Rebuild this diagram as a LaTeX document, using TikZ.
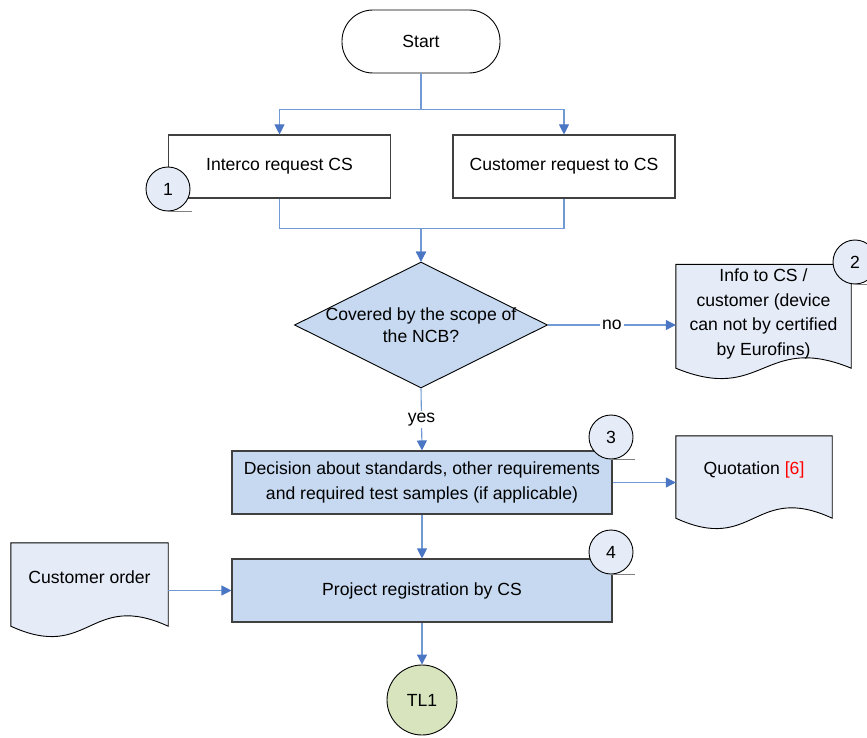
\documentclass[tikz,border=0pt]{standalone}
\usepackage{fontspec}
\setmainfont{Liberation Sans}
\usepackage{tikz}
\usetikzlibrary{shapes,arrows.meta,positioning,backgrounds}
\usepackage{xcolor}

\definecolor{boxblue}{HTML}{C6D9F0}
\definecolor{docfill}{HTML}{E5EBF7}
\definecolor{tlgreen}{HTML}{D7E4BD}
\definecolor{boxline}{HTML}{404040}
\definecolor{flowline}{HTML}{7199D4}
\definecolor{arrowblue}{HTML}{4A76C4}

% wavy document outline behind a node, #2 = drop of the wave below the node
\newcommand{\docoutline}[2]{%
  \begin{scope}[on background layer]
    \path[docline] (#1.north west) -- (#1.north east) -- ([yshift={-#2}]#1.south east)
      .. controls ([yshift={36-#2}]#1.south) and ([yshift={-36-#2}]#1.south) .. ([yshift={-#2}]#1.south west) -- cycle;
  \end{scope}}

\begin{document}
\begin{tikzpicture}[x=1pt, y=-1pt,
    font=\fontsize{17.6}{24.5}\selectfont,
    box/.style={draw=boxline, line width=1.1pt, fill=boxblue, minimum width=380, minimum height=63, align=center},
    whitebox/.style={draw=boxline, line width=1.1pt, fill=white, minimum width=222, minimum height=63},
    docarea/.style={align=center, inner sep=0},
    docline/.style={draw=black, line width=0.9pt, fill=docfill},
    callout/.style={circle, draw=black, line width=0.9pt, fill=docfill, minimum size=44, inner sep=0},
    calloutline/.style={draw=gray, line width=1.4pt},
    flow/.style={draw=flowline, line width=1.1pt, -{Triangle[length=10pt,width=10pt,color=arrowblue]}},
    tag/.style={fill=white, inner sep=2pt}]

    \useasboundingbox (0,0) rectangle (867,738);

    \node[draw=black, line width=0.9pt, rectangle, rounded corners=31, minimum width=158, minimum height=63] (start) at (421,41.5) {Start};

    \node[whitebox] (interco) at (279.5,166.5) {Interco request CS};
    \node[whitebox] (custreq) at (564,166.5) {Customer request to CS};

    \node[diamond, draw=black, line width=0.9pt, fill=boxblue, minimum width=253, minimum height=126, inner sep=0] (scope) at (421,325) {};
    \node[align=center, font=\fontsize{17.6}{22}\selectfont] at (scope) {Covered by the scope of\\the NCB?};

    \node[docarea, minimum width=175, minimum height=99] (info) at (763.5,314) {Info to CS /\\customer (device\\can not by certified\\by Eurofins)};
    \docoutline{info}{4.5}

    \node[box] (decision) at (422,482.5) {Decision about standards, other requirements\\and required test samples (if applicable)};
    \node[docarea, minimum width=156, minimum height=68] (quote) at (754,470) {Quotation \textcolor{red}{[6]}};
    \docoutline{quote}{14}

    \node[box] (project) at (422,590.5) {Project registration by CS};
    \node[docarea, minimum width=157, minimum height=69] (order) at (89.5,577.5) {Customer order};
    \docoutline{order}{14}

    \node[circle, draw=black, line width=0.9pt, fill=tlgreen, minimum size=70] (tl) at (422,700) {TL1};

    % numbered callouts
    \node[callout] (one) at (168,189) {1};
    \node[callout] (two) at (855,262) {2};
    \node[callout] (three) at (611,437) {3};
    \node[callout] (four) at (611,552) {4};
    \foreach \c in {one,two,three,four} {
        \draw[calloutline] (\c.south) -- ++(24,0);
    }

    % connectors
    \draw[flow] (start.south) -- ++(0,36) -| (interco.north);
    \draw[flow] (start.south) -- ++(0,36) -| (custreq.north);
    \draw[flow] (interco.south) -- ++(0,30) -| (scope.north);
    \draw[flow] (custreq.south) -- ++(0,30) -| (scope.north);
    \draw[flow] (scope.east) -- node[tag] {no} (info.west |- scope.east);
    \draw[flow] (scope.south) -- node[tag] {yes} (decision.north);
    \draw[flow] (decision.east) -- (quote.west |- decision.east);
    \draw[flow] (decision.south) -- (project.north);
    \draw[flow] (order.east |- project.west) -- (project.west);
    \draw[flow] (project.south) -- (tl.north);
\end{tikzpicture}
\end{document}
